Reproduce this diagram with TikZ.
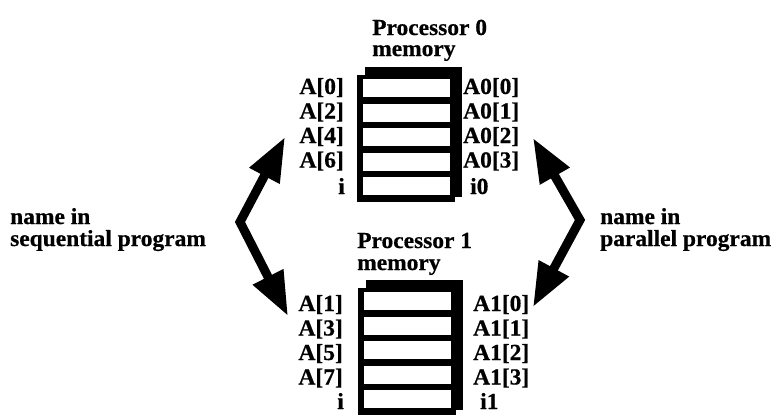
\documentclass[tikz,border=0pt]{standalone}
\usepackage{fontspec}
\setmainfont{Liberation Serif}[FakeStretch=1.02,BoldFeatures={FakeBold=0.6}]
\usetikzlibrary{arrows.meta}
\begin{document}
\begin{tikzpicture}[x=1pt,y=-1pt,
  lbl/.style={inner sep=0pt,font=\fontsize{23}{21}\selectfont\bfseries},
  lw/.style={lbl,anchor=base west},
  le/.style={lbl,anchor=base east},
  cell/.style={fill=white,inner sep=0pt,minimum width=87pt,minimum height=18pt,anchor=north west},
  bigarrow/.style={line width=9pt,line join=miter,
    {Triangle[length=44pt,width=32pt]}-{Triangle[length=44pt,width=32pt]}}]
\useasboundingbox (0,0) rectangle (780,416);

% Processor 0 memory: shadowed stack of five cells
\fill (365,67) rectangle (462,197);
\fill (357,75) rectangle (455,202);
\foreach \k in {0,...,4}
  \node[cell] (ca\k) at (363,79+24.5*\k) {};
\node[lw] (t0) at (372,35) {Processor 0};
\node[lw] (t0m) at (372,56) {memory};
\node[le] (sa0) at (344,94) {A[0]};
\node[le] (sa1) at (344,118.5) {A[2]};
\node[le] (sa2) at (344,143) {A[4]};
\node[le] (sa3) at (344,167.5) {A[6]};
\node[le] (sa4) at (345,194) {i};
\node[lw] (pa0) at (463,94) {A0[0]};
\node[lw] (pa1) at (463,118.5) {A0[1]};
\node[lw] (pa2) at (463,143) {A0[2]};
\node[lw] (pa3) at (463,167.5) {A0[3]};
\node[lw] (pa4) at (470,194) {i0};

% Processor 1 memory
\begin{scope}[shift={(1,213)}]
\fill (365,67) rectangle (462,197);
\fill (357,75) rectangle (455,202);
\foreach \k in {0,...,4}
  \node[cell] (cb\k) at (363,79+24.5*\k) {};
\end{scope}
\node[lw] (t1) at (357,248) {Processor 1};
\node[lw] (t1m) at (357,270) {memory};
\node[le] (sb0) at (343,311) {A[1]};
\node[le] (sb1) at (343,335.5) {A[3]};
\node[le] (sb2) at (343,360) {A[5]};
\node[le] (sb3) at (343,384.5) {A[7]};
\node[le] (sb4) at (344,409) {i};
\node[lw] (pb0) at (473,311) {A1[0]};
\node[lw] (pb1) at (473,335.5) {A1[1]};
\node[lw] (pb2) at (473,360) {A1[2]};
\node[lw] (pb3) at (473,384.5) {A1[3]};
\node[lw] (pb4) at (480,409) {i1};

% side captions
\node[lw] (s1) at (10,224) {name in};
\node[lw] (s2) at (10,246) {sequential program};
\node[lw] (p1) at (600,224) {name in};
\node[lw] (p2) at (600,246) {parallel program};

% double-headed bent arrows
\coordinate (la1) at (285,137);
\coordinate (lv) at (240,222);
\coordinate (la2) at (288,316);
\coordinate (ra1) at (533,138);
\coordinate (rv) at (580,220);
\coordinate (ra2) at (533,307);
\draw[bigarrow] (la1) -- (lv) -- (la2);
\draw[bigarrow] (ra1) -- (rv) -- (ra2);
\end{tikzpicture}
\end{document}
